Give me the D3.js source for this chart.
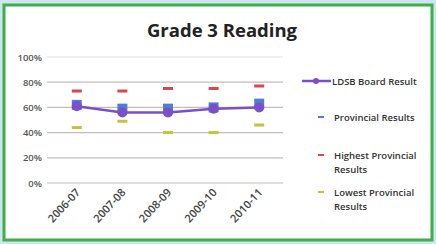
<!DOCTYPE html>
<html>
<head>
<meta charset="utf-8">
<script src="https://cdn.jsdelivr.net/npm/d3@7"></script>
<style>
  body { margin: 0; background: #cfe4f2; }
  svg { display: block; }
  text { font-family: "Open Sans", "Liberation Sans", sans-serif; }
</style>
</head>
<body>
<div id="chart"></div>
<script>
const years = ["2006-07", "2007-08", "2008-09", "2009-10", "2010-11"];
const ldsb = [61, 56, 56, 59, 60];
const provincial = [62, 59, 59, 60, 63];
const highest = [73, 73, 75, 75, 77];
const lowest = [44, 49, 40, 40, 46];
const yTicks = [0, 20, 40, 60, 80, 100];

const W = 436, H = 244;
const svg = d3.select("#chart").append("svg").attr("width", W).attr("height", H);

// frame
svg.append("rect").attr("x", 4).attr("y", 5).attr("width", 428).attr("height", 235)
  .attr("fill", "#fff").attr("stroke", "#3fae45").attr("stroke-width", 3);

svg.append("text").attr("x", 222).attr("y", 37).attr("text-anchor", "middle")
  .attr("font-size", 18.5).attr("font-weight", "bold").attr("fill", "#222")
  .text("Grade 3 Reading");

const x = d3.scaleBand().domain(years).range([54, 282]);
const y = d3.scaleLinear().domain([0, 100]).range([183, 57]);

// gridlines
svg.append("g").selectAll("line").data(yTicks).join("line")
  .attr("x1", 47).attr("x2", 283)
  .attr("y1", d => y(d)).attr("y2", d => y(d))
  .attr("stroke", d => d === 100 ? "#e4e0e0" : "#c4bcbc").attr("stroke-width", 1.2);

svg.append("g").selectAll("text").data(yTicks).join("text")
  .attr("x", 42).attr("y", d => y(d) + 3.5)
  .attr("text-anchor", "end").attr("font-size", 9.5).attr("font-weight", 600).attr("fill", "#555")
  .text(d => d + "%");

// x labels
svg.append("g").selectAll("text").data(years).join("text")
  .attr("transform", d => `translate(${x(d) + x.bandwidth() / 2 + 4},${193}) rotate(-47)`)
  .attr("text-anchor", "end").attr("font-size", 11).attr("font-weight", 600).attr("fill", "#444")
  .text(d => d);

const cx = i => x(years[i]) + x.bandwidth() / 2;

function dashes(data, color, w) {
  svg.append("g").selectAll("rect").data(data).join("rect")
    .attr("x", (d, i) => cx(i) - w / 2).attr("y", d => y(d) - 1.5)
    .attr("width", w).attr("height", 3).attr("fill", color);
}
dashes(highest, "#d9484a", 10);
dashes(lowest, "#c3c43a", 10);

// provincial squares
svg.append("g").selectAll("rect").data(provincial).join("rect")
  .attr("x", (d, i) => cx(i) - 5).attr("y", d => y(d) - 5)
  .attr("width", 10).attr("height", 10).attr("fill", "#4f7fd0");

// LDSB line
const line = d3.line().x((d, i) => cx(i)).y(d => y(d));
svg.append("path").datum(ldsb).attr("d", line)
  .attr("fill", "none").attr("stroke", "#7a4fc8").attr("stroke-width", 2.5);
svg.append("g").selectAll("circle").data(ldsb).join("circle")
  .attr("cx", (d, i) => cx(i)).attr("cy", d => y(d)).attr("r", 5)
  .attr("fill", "#7a4fc8");

// legend
const lg = svg.append("g").attr("font-size", 9.5).attr("font-weight", 600).attr("fill", "#333");
lg.append("line").attr("x1", 302).attr("x2", 331).attr("y1", 81).attr("y2", 81)
  .attr("stroke", "#7a4fc8").attr("stroke-width", 2.5);
lg.append("circle").attr("cx", 316).attr("cy", 81).attr("r", 3).attr("fill", "#7a4fc8");
lg.append("text").attr("x", 332).attr("y", 84.5).text("LDSB Board Result");

const items = [
  { color: "#4f7fd0", y: 117, lines: ["Provincial Results"] },
  { color: "#d9484a", y: 155, lines: ["Highest Provincial", "Results"] },
  { color: "#c3c43a", y: 192, lines: ["Lowest Provincial", "Results"] }
];
items.forEach(it => {
  lg.append("rect").attr("x", 318).attr("y", it.y - 1).attr("width", 6).attr("height", 2).attr("fill", it.color);
  it.lines.forEach((t, j) => {
    lg.append("text").attr("x", 334).attr("y", it.y + 3.5 + j * 14).text(t);
  });
});
</script>
</body>
</html>
